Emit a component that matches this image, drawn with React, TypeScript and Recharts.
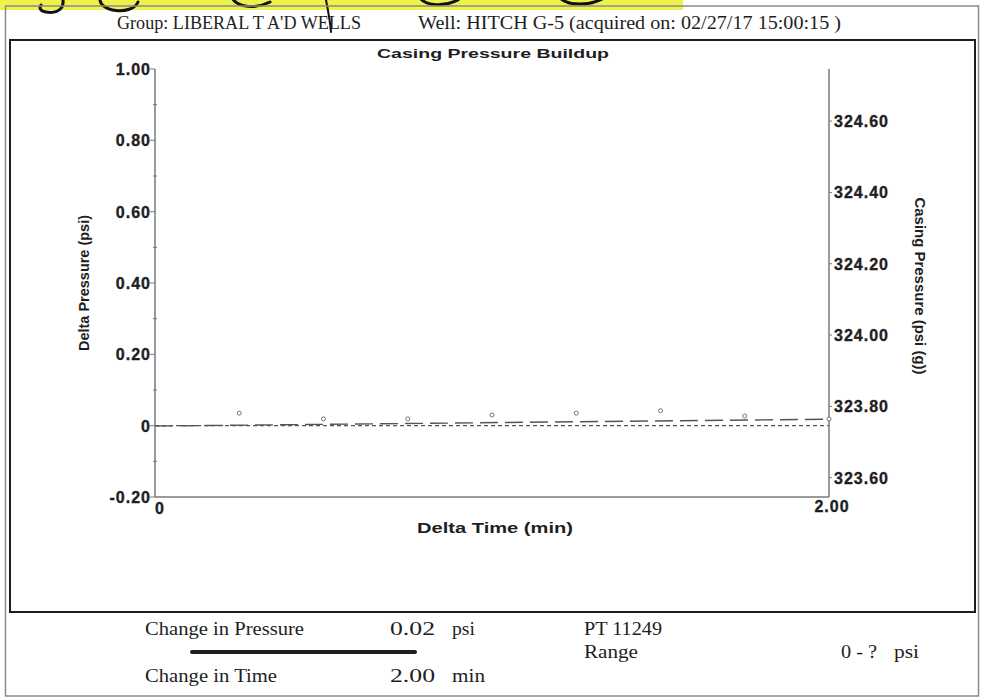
import React from "react";
import { ComposedChart, Line, XAxis, YAxis } from "recharts";

// readings taken every 0.25 min
const times = [0, 0.25, 0.5, 0.75, 1.0, 1.25, 1.5, 1.75, 2.0];
const deltaPressure: (number | null)[] = [null, 0.035, 0.019, 0.019, 0.03, 0.035, 0.042, 0.027, 0.019];
// casing pressure trend (right axis), only the two ends
const casingEnds: Record<number, number> = { 0: 323.745, 2: 323.764 };
const baselineEnds: Record<number, number> = { 0: 0, 2: 0 };

const leftTicks = [-0.2, -0.1, 0, 0.1, 0.2, 0.3, 0.4, 0.5, 0.6, 0.7, 0.8, 0.9, 1.0];
const rightTicks = [323.6, 323.8, 324.0, 324.2, 324.4, 324.6];
const timeTicks = [0, 2];

const data = times.map((t, i) => ({
  t,
  delta: deltaPressure[i],
  casing: casingEnds[t] ?? null,
  base: baselineEnds[t] ?? null,
}));

const SANS = "'Liberation Sans', Arial, sans-serif";
const SERIF = "'Liberation Serif', 'Times New Roman', serif";
const AXIS = "#7a7a7a";
const INK = "#1e1e1e";

const tickText = {
  fontFamily: SANS,
  fontWeight: 700,
  fontSize: 16,
  fill: INK,
  stroke: INK,
  strokeWidth: 0.35,
  letterSpacing: 1,
};

const LeftTick = (props: any) => {
  const { x, y, payload } = props;
  const v = payload.value as number;
  const major = Math.round(v * 10) % 2 === 0;
  if (!major) {
    return <line x1={x - 2} x2={x + 2} y1={y} y2={y} stroke={AXIS} strokeWidth={1} />;
  }
  const label = Math.abs(v) < 1e-9 ? "0" : v.toFixed(2);
  return (
    <g>
      <line x1={x - 5} x2={x} y1={y} y2={y} stroke={AXIS} strokeWidth={1} />
      <text x={x - 4} y={y + 6} textAnchor="end" {...tickText}>
        {label}
      </text>
    </g>
  );
};

const RightTick = (props: any) => {
  const { x, y, payload } = props;
  return (
    <g>
      <line x1={x} x2={x + 3} y1={y} y2={y} stroke={AXIS} strokeWidth={1} />
      <text x={x + 5} y={y + 6} textAnchor="start" {...tickText}>
        {(payload.value as number).toFixed(2)}
      </text>
    </g>
  );
};

const TimeTick = (props: any) => {
  const { x, y, payload } = props;
  const v = payload.value as number;
  const label = v === 0 ? "0" : v.toFixed(2);
  return (
    <text x={v === 0 ? x + 5 : x + 3} y={v === 0 ? y + 17 : y + 15} textAnchor="middle" {...tickText}>
      {label}
    </text>
  );
};

export default function App() {
  return (
    <div
      style={{
        position: "absolute",
        left: 0,
        top: 0,
        width: 983,
        height: 700,
        background: "#fff",
        overflow: "hidden",
      }}
    >
      <svg width={983} height={700} style={{ position: "absolute", left: 0, top: 0 }}>
        {/* highlighter + handwriting cut off at the top */}
        <rect x={0} y={0} width={683} height={10} fill="#eef24a" />
        <g fill="none" stroke="#111" strokeWidth={3} strokeLinecap="round">
          <path d="M 62 -4 C 66 8, 58 14, 46 12 C 40 11, 39 8, 41 5" />
          <path d="M 100 -2 C 98 12, 132 16, 138 2" />
          <path d="M 232 -2 C 238 8, 256 9, 270 2" />
          <path d="M 420 -2 C 426 6, 444 7, 458 0" />
          <path d="M 560 -2 C 568 6, 590 6, 604 -2" />
          <path d="M 326 0 C 328 10, 330 20, 331 32" strokeWidth={2} />
        </g>

        {/* page frames */}
        <rect x={5.5} y={6} width={973} height={690} fill="none" stroke="#8a8a8a" strokeWidth={1.5} />
        <rect x={10} y={40} width={965} height={572} fill="none" stroke={INK} strokeWidth={2} />

        {/* header */}
        <text x={117} y={29} fontFamily={SERIF} fontSize={19} fill={INK} textLength={244} lengthAdjust="spacingAndGlyphs">
          Group: LIBERAL T A'D WELLS
        </text>
        <text x={418} y={29} fontFamily={SERIF} fontSize={19} fill={INK} textLength={423} lengthAdjust="spacingAndGlyphs">
          Well: HITCH G-5 (acquired on: 02/27/17 15:00:15 )
        </text>

        {/* chart labels */}
        <text x={377} y={58} fontFamily={SANS} fontWeight={700} fontSize={13} fill={INK} textLength={232} lengthAdjust="spacingAndGlyphs">
          Casing Pressure Buildup
        </text>
        <text x={417} y={533} fontFamily={SANS} fontWeight={700} fontSize={15} fill={INK} textLength={156} lengthAdjust="spacingAndGlyphs">
          Delta Time (min)
        </text>
        <text
          x={0}
          y={0}
          transform="translate(89 283) rotate(-90)"
          textAnchor="middle"
          fontFamily={SANS}
          fontWeight={700}
          fontSize={14}
          fill={INK}
          textLength={136}
          lengthAdjust="spacingAndGlyphs"
        >
          Delta Pressure (psi)
        </text>
        <text
          x={0}
          y={0}
          transform="translate(915 286) rotate(90)"
          textAnchor="middle"
          fontFamily={SANS}
          fontWeight={700}
          fontSize={14}
          fill={INK}
          textLength={177}
          lengthAdjust="spacingAndGlyphs"
        >
          Casing Pressure (psi (g))
        </text>

        {/* summary block */}
        <g fontFamily={SERIF} fontSize={19} fill={INK}>
          <text x={145} y={635} textLength={159} lengthAdjust="spacingAndGlyphs">Change in Pressure</text>
          <text x={390} y={635} textLength={45} lengthAdjust="spacingAndGlyphs">0.02</text>
          <text x={452} y={635} textLength={23} lengthAdjust="spacingAndGlyphs">psi</text>
          <text x={584} y={635} textLength={78} lengthAdjust="spacingAndGlyphs">PT 11249</text>
          <text x={584} y={658} textLength={54} lengthAdjust="spacingAndGlyphs">Range</text>
          <text x={841} y={658} textLength={36} lengthAdjust="spacingAndGlyphs">0 - ?</text>
          <text x={894} y={658} textLength={25} lengthAdjust="spacingAndGlyphs">psi</text>
          <text x={145} y={682} textLength={132} lengthAdjust="spacingAndGlyphs">Change in Time</text>
          <text x={390} y={682} textLength={45} lengthAdjust="spacingAndGlyphs">2.00</text>
          <text x={452} y={682} textLength={33} lengthAdjust="spacingAndGlyphs">min</text>
        </g>
        <line x1={192} x2={415} y1={652} y2={652} stroke={INK} strokeWidth={4} strokeLinecap="round" />
      </svg>

      <div style={{ position: "absolute", left: 0, top: 0 }}>
        <ComposedChart width={983} height={700} data={data} margin={{ top: 69, right: 74, bottom: 173, left: 95 }}>
          <XAxis
            dataKey="t"
            type="number"
            domain={[0, 2]}
            ticks={timeTicks}
            interval={0}
            height={30}
            tickSize={0}
            tickMargin={0}
            tickLine={false}
            axisLine={{ stroke: AXIS, strokeWidth: 1.5 }}
            tick={<TimeTick />}
          />
          <YAxis
            yAxisId="delta"
            domain={[-0.2, 1]}
            ticks={leftTicks}
            interval={0}
            width={60}
            tickSize={0}
            tickMargin={0}
            tickLine={false}
            allowDataOverflow
            axisLine={{ stroke: AXIS, strokeWidth: 1.5 }}
            tick={<LeftTick />}
          />
          <YAxis
            yAxisId="casing"
            orientation="right"
            domain={[323.546, 324.746]}
            ticks={rightTicks}
            interval={0}
            width={80}
            tickSize={0}
            tickMargin={0}
            tickLine={false}
            allowDataOverflow
            axisLine={{ stroke: AXIS, strokeWidth: 1.5 }}
            tick={<RightTick />}
          />
          <Line
            yAxisId="delta"
            dataKey="base"
            stroke="#555"
            strokeWidth={1.2}
            strokeDasharray="4 3"
            dot={false}
            activeDot={false}
            connectNulls
            isAnimationActive={false}
          />
          <Line
            yAxisId="casing"
            dataKey="casing"
            stroke="#555"
            strokeWidth={1.4}
            strokeDasharray="18 7"
            dot={false}
            activeDot={false}
            connectNulls
            isAnimationActive={false}
          />
          <Line
            yAxisId="delta"
            dataKey="delta"
            stroke="none"
            dot={{ r: 2, stroke: "#777", strokeWidth: 1, fill: "#fff" }}
            activeDot={false}
            isAnimationActive={false}
          />
        </ComposedChart>
      </div>
    </div>
  );
}
